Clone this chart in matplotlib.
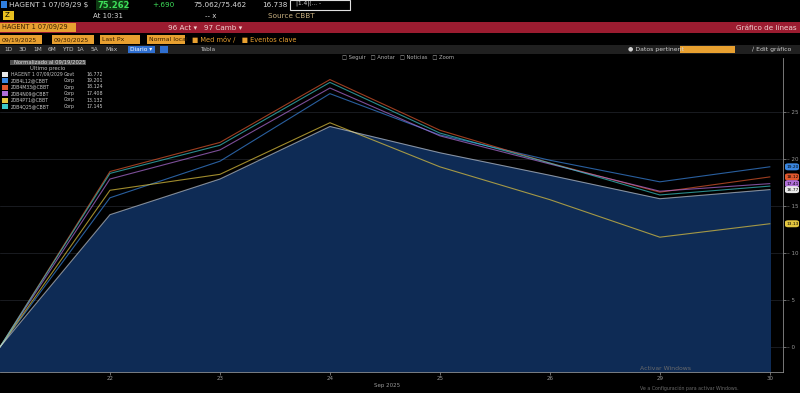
import matplotlib.pyplot as plt
from matplotlib.patches import Rectangle, FancyBboxPatch

# trading days, Sep 2025 (first point is the 09/19 base)
days = ['19', '22', '23', '24', '25', '26', '29', '30']
tick_days = ['22', '23', '24', '25', '26', '29', '30']

# normalised change (%) vs 09/19/2025
hagent = [0, 14.1, 17.9, 23.5, 20.7, 18.3, 15.8, 16.772]
blue_s = [0, 15.9, 19.8, 27.0, 22.6, 19.9, 17.6, 19.201]
red_s = [0, 18.7, 21.8, 28.5, 23.1, 19.6, 16.5, 18.124]
purple_s = [0, 17.9, 21.0, 27.6, 22.5, 19.5, 16.6, 17.408]
yellow_s = [0, 16.7, 18.4, 23.9, 19.2, 15.7, 11.7, 13.132]
cyan_s = [0, 18.5, 21.5, 28.2, 22.8, 19.6, 16.2, 17.145]

names = ['HAGENT 1 07/09/2029', 'Z0B4L12@CBBT', 'Z0B4M33@CBBT',
         'Z0B4N09@CBBT', 'Z0B4P71@CBBT', 'Z0B4Q25@CBBT']
kinds = ['Govt', 'Corp', 'Corp', 'Corp', 'Corp', 'Corp']
series = [hagent, blue_s, red_s, purple_s, yellow_s, cyan_s]
colors = ['#e8e8e8', '#3a86e0', '#e0582e', '#b06fd8', '#e3c640', '#3cc6c8']
yticks = [0, 5, 10, 15, 20, 25]

W, H = 800, 393
fig = plt.figure(figsize=(8, 3.93), dpi=100, facecolor='black')


def fx(x):
    return x / W


def fy(y):
    return 1 - y / H


def box(x, y, w, h, color, ec='none', lw=0):
    fig.add_artist(Rectangle((fx(x), fy(y + h)), w / W, h / H,
                             transform=fig.transFigure, facecolor=color,
                             edgecolor=ec, linewidth=lw))


def txt(x, y, s, color='#d8d8d8', size=5, **kw):
    fig.text(fx(x), fy(y), s, color=color, fontsize=size, va='center', **kw)


# ---- header rows ----
box(1, 1, 6, 7, '#2f7fe0')
txt(9, 5, 'HAGENT 1 07/09/29 $', size=5.2)
box(96, 0, 32, 10, '#0d3a12')
txt(98, 5, '75.262', color='#3ee05a', size=6, weight='bold')
txt(152, 5, '+.690', color='#3ee05a', size=5.2)
txt(193, 5, '75.062/75.462', size=5.2)
txt(262, 5, '16.738', size=5.2)
box(290, 0, 60, 10, 'black', ec='#e0e0e0', lw=0.8)
txt(296, 3, '|1.4|(... -', size=4.2)
box(3, 11, 11, 9, '#e8c020')
txt(5, 15, 'Z', color='black', size=5)
txt(93, 16, 'At 10:31', size=5)
txt(205, 16, '-- x', size=5)
txt(268, 16, 'Source CBBT', color='#c8b080', size=5.2)

box(0, 22, 800, 11, '#9b1c30')
box(0, 23, 76, 9, '#e8a030')
txt(2, 27.5, 'HAGENT 1 07/09/29', color='#3a2000', size=4.8)
txt(168, 27.5, '96 Act \u25be   97 Camb \u25be', color='#f0d0d0', size=5.2)
txt(736, 27.5, 'Gr\u00e1fico de l\u00edneas', color='#f0d0d0', size=5.2)

for x0, w, s in [(0, 42, '09/19/2025'), (52, 42, '09/30/2025'),
                 (100, 40, 'Last Px'), (147, 38, 'Normal local')]:
    box(x0, 35, w, 9, '#e8a030')
    txt(x0 + 2, 39.5, s, color='#3a2000', size=4.4)
txt(192, 39.5, '\u25a0 Med m\u00f3v \u2215   \u25a0 Eventos clave', color='#e8a030', size=4.8)

box(0, 45, 800, 9, '#202020')
for i, s in enumerate(['1D', '3D', '1M', '6M', 'YTD', '1A', '5A', 'M\u00e1x']):
    txt(4 + i * 14.5, 49.5, s, color='#c0c0c0', size=4.2)
box(128, 46, 27, 7, '#2f6fd0')
txt(130, 49.5, 'Diario \u25be', color='white', size=4.2)
box(160, 46, 8, 7, '#2f6fd0')
txt(200, 49.5, 'Tabla', color='#c0c0c0', size=4.2)
txt(628, 49.5, '\u25cf Datos pertinent', color='#d0d0d0', size=4.4)
box(680, 46, 55, 7, '#e8a030')
txt(752, 49.5, '\u2215 Edit gr\u00e1fico', color='#d0d0d0', size=4.4)
txt(342, 57, '\u25a1 Seguir   \u25a1 Anotar   \u25a1 Noticias   \u25a1 Zoom', color='#b0b0b0', size=3.8)

# ---- chart ----
ax = fig.add_axes([0, fy(372), fx(783), fy(58) - fy(372)])
ax.set_facecolor('black')
x = list(range(len(days)))
ymin, ymax = -2.67, 30.8
ax.fill_between(x, hagent, ymin, color='#0e2b55', zorder=1)
for s, c in zip(series[1:], colors[1:]):
    ax.plot(x, s, color=c, lw=0.8, alpha=0.7, zorder=2)
ax.plot(x, hagent, color=colors[0], lw=0.8, alpha=0.55, zorder=3)
ax.set_xlim(0, 7.12)
ax.set_ylim(ymin, ymax)
for v in yticks:
    ax.axhline(v, color='#3a3f4a', lw=0.5, alpha=0.6, zorder=0.5)
ax.set_yticks(yticks)
ax.set_yticklabels(['\u2013 %d' % v for v in yticks])
ax.yaxis.tick_right()
ax.set_xticks(x[1:])
ax.set_xticklabels(tick_days)
ax.tick_params(colors='#9a9a9a', labelsize=4, length=2, width=0.5, pad=1)
for side in ['top', 'left']:
    ax.spines[side].set_visible(False)
for side in ['right', 'bottom']:
    ax.spines[side].set_color('#8a8a8a')
    ax.spines[side].set_linewidth(0.6)
txt(374, 385, 'Sep 2025', color='#9a9a9a', size=4)

# last-value tags on the right
for i in [1, 2, 3, 0, 4]:
    yy = ax.transData.transform((0, series[i][-1]))[1] / fig.bbox.height
    fig.add_artist(FancyBboxPatch((fx(785), yy - 3.5 / H), 14 / W, 7 / H,
                                  boxstyle='round,pad=0,rounding_size=0.004',
                                  transform=fig.transFigure, facecolor=colors[i],
                                  edgecolor='none', zorder=5))
    fig.text(fx(787), yy, '%.2f' % series[i][-1], color='black', fontsize=3.2,
             va='center', zorder=6)

# legend block
box(10, 60, 76, 5, '#505050')
txt(14, 62.5, 'Normalizado al 09/19/2025', color='#e0e0e0', size=3.8)
txt(30, 68, '\u00daltimo precio', color='#c0c0c0', size=3.8)
for i, (n, k, s, c) in enumerate(zip(names, kinds, series, colors)):
    yy = 74 + i * 6.5
    box(2, yy - 2.5, 6, 5, c)
    txt(11, yy, n, color='#c8c8c8', size=3.3)
    txt(64, yy, k, color='#c8c8c8', size=3.4)
    txt(86, yy, '%.3f' % s[-1], color='#c8c8c8', size=3.4)

txt(640, 368, 'Activar Windows', color='#6a6a6a', size=4.4)
txt(640, 388, 'Ve a Configuraci\u00f3n para activar Windows.', color='#6a6a6a', size=3.4)

fig.savefig('out.png', dpi=100, facecolor='black')
